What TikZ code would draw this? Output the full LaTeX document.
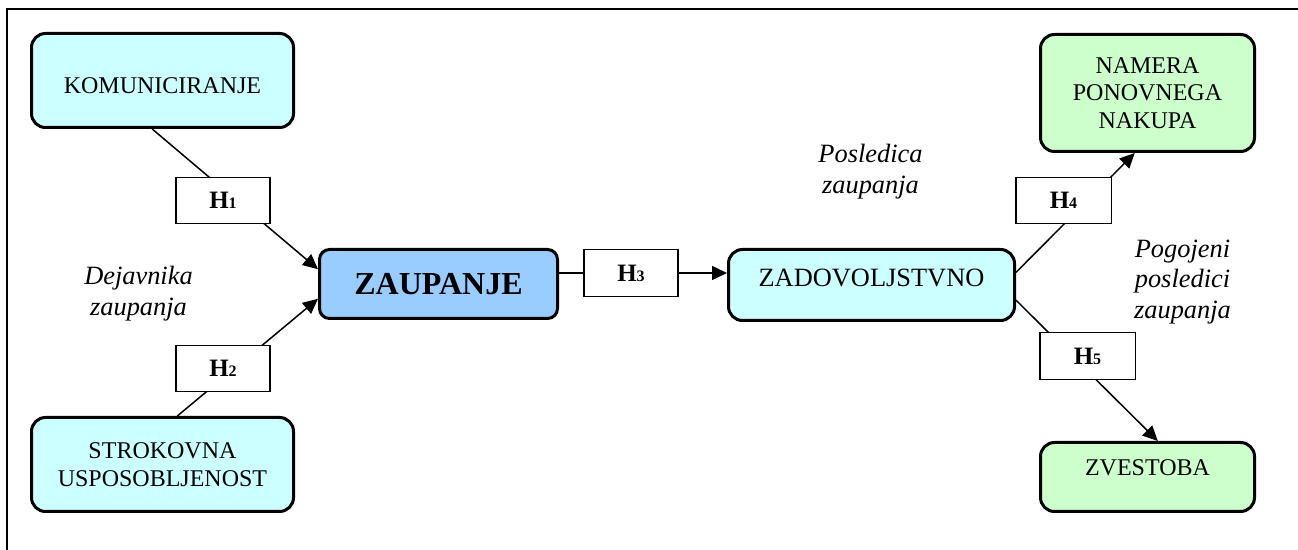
\documentclass[tikz,border=0pt]{standalone}
\usepackage{fontspec}
\setmainfont{Liberation Serif}
\usetikzlibrary{arrows.meta, backgrounds}
\definecolor{factorcyan}{HTML}{CCFFFF}
\definecolor{trustblue}{HTML}{99CCFF}
\definecolor{outcomegreen}{HTML}{CCFFCC}
\tikzstyle{arrow}=[-{Triangle[length=7.5pt,width=7pt]}, line width=0.75pt, color=black]
\newcommand{\hyplabel}[1]{H{\fontsize{8}{8}\selectfont #1}}

\begin{document}
\begin{tikzpicture}[x=0.5pt, y=-0.5pt,
  factor/.style={rectangle, rounded corners=7pt, draw=black, line width=1.5pt, fill=factorcyan,
                 align=center, font=\fontsize{12}{13.8}\selectfont},
  hyp/.style={rectangle, draw=black, line width=0.75pt, fill=white,
              minimum height=23pt, font=\fontsize{12.5}{14}\selectfont\bfseries},
  note/.style={align=center, font=\fontsize{13.2}{15.4}\selectfont\itshape}
]
\useasboundingbox (0,0) rectangle (1298,550);
\draw[line width=1pt] (7,550) -- (7,9) -- (1298,9);

% Dejavniki
\node[factor, minimum width=131pt, minimum height=47pt, text height=12.9pt, text depth=0pt] (kom) at (162.5,80.5) {KOMUNICIRANJE};
\node[factor, minimum width=131pt, minimum height=47pt] (str) at (162.5,464.5) {STROKOVNA\\USPOSOBLJENOST};

% Zaupanje in posledice
\node[factor, fill=trustblue, rounded corners=5pt, minimum width=119pt, minimum height=34.5pt,
      font=\fontsize{16}{18}\selectfont\bfseries] (zau) at (438.5,284) {ZAUPANJE};
\node[factor, minimum width=143pt, minimum height=35.5pt, font=\fontsize{13.2}{15}\selectfont,
      text height=9.4pt, text depth=7.8pt] (zad) at (871.5,285) {ZADOVOLJSTVNO};
\node[factor, fill=outcomegreen, minimum width=107pt, minimum height=58.5pt] (nam) at (1147.5,93) {NAMERA\\PONOVNEGA\\NAKUPA};
\node[factor, fill=outcomegreen, minimum width=107pt, minimum height=34.5pt,
      text height=8pt, text depth=9.6pt] (zve) at (1147.5,477) {ZVESTOBA};

% Hipoteze
\node[hyp, minimum width=47pt] (h1) at (223,200.5) {\hyplabel{1}};
\node[hyp, minimum width=47pt] (h2) at (223,368.5) {\hyplabel{2}};
\node[hyp, minimum width=47pt, minimum height=23.5pt] (h3) at (631,273) {\hyplabel{3}};
\node[hyp, minimum width=47.75pt] (h4) at (1063.5,200.5) {\hyplabel{4}};
\node[hyp, minimum width=47.75pt, minimum height=23.5pt] (h5) at (1087.5,356) {\hyplabel{5}};

% Oznake
\node[note] (dej) at (138.5,294) {Dejavnika\\zaupanja};
\node[note] (pos) at (870.5,172) {Posledica\\zaupanja};
\node[note] (pog) at (1182.5,282) {Pogojeni\\posledici\\zaupanja};

\begin{scope}[on background layer]
\draw[arrow] (kom.258) -- (zau.173);
\draw[arrow] (str.73) -- (zau.187);
\draw[arrow] (zau.east |- h3.center) -- (zad.west |- h3.center);
\draw[arrow] (zad.5.9) -- (nam.258.6);
\draw[arrow] (zad.354.9) -- (zve.74.5);
\end{scope}
\end{tikzpicture}
\end{document}
